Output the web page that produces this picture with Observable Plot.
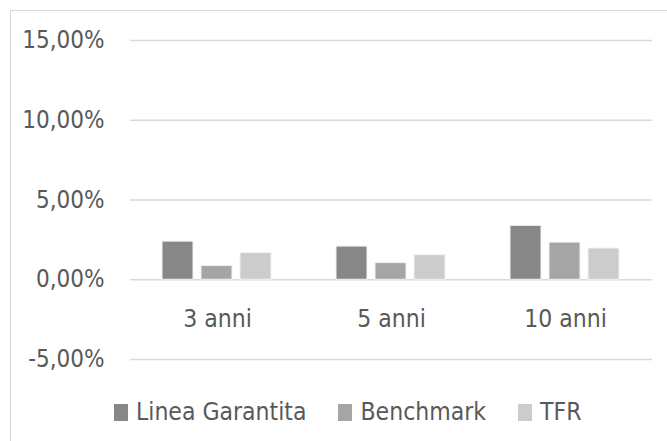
<!DOCTYPE html>
<html><head><meta charset="utf-8">
<script src="https://cdn.jsdelivr.net/npm/d3@7"></script>
<script src="https://cdn.jsdelivr.net/npm/@observablehq/plot@0.6"></script>
<style>
body{margin:0;background:#fff;width:667px;height:441px;overflow:hidden;position:relative;font-family:"DejaVu Sans Condensed",sans-serif;color:#595959}
#frame{position:absolute;left:10px;top:10px;width:800px;height:600px;border:1px solid #d9d9d9;pointer-events:none}
#chart{position:absolute;left:0;top:0}
#legend{position:absolute;left:114px;top:398px;display:flex;align-items:center;font-size:24.5px;height:28px;line-height:28px}
.item{display:flex;align-items:center;margin-right:32px}
.sw{width:14px;height:17px;margin-right:8px}
</style></head><body>
<div id="frame"></div><div id="chart"></div><div id="legend"></div>
<script>
const categories = ["3 anni", "5 anni", "10 anni"];
const series = ["Linea Garantita", "Benchmark", "TFR"];
const lineaGarantita = [2.39, 2.08, 3.38];
const benchmark = [0.86, 1.04, 2.33];
const tfr = [1.67, 1.54, 1.96];
const yTicks = [-5, 0, 5, 10, 15];

const seriesValues = [lineaGarantita, benchmark, tfr];
const colors = ["#878787", "#a5a5a5", "#cccccc"];
const rows = categories.flatMap((c, i) => series.map((s, j) => ({category: c, series: s, value: seriesValues[j][i]})));
const fmt = d => d.toFixed(2).replace(".", ",") + "%";
const font = '"DejaVu Sans Condensed",sans-serif';

const plot = Plot.plot({
  width: 667, height: 385,
  marginLeft: 130, marginRight: 15, marginTop: 40, marginBottom: 26,
  style: {fontFamily: font, fontSize: "24px", color: "#595959", background: "transparent"},
  fx: {domain: categories, axis: null, paddingInner: 0, paddingOuter: 0},
  x: {domain: series, axis: null, paddingInner: 0.2, paddingOuter: 0.83},
  y: {domain: [-5, 15], ticks: yTicks, tickSize: 0, tickPadding: 26, tickFormat: fmt, label: null},
  color: {domain: series, range: colors},
  marks: [
    Plot.ruleY(yTicks, {stroke: "#d9d9d9", strokeWidth: 1.3}),
    Plot.barY(rows, {fx: "category", x: "series", y: "value", fill: "series", stroke: "#f2f2f2", strokeWidth: 1}),
    Plot.text(categories, {fx: d => d, y: 0, dy: 39, text: d => d, fontSize: 24.5, fill: "#595959"})
  ]
});
document.getElementById("chart").appendChild(plot);

const legend = document.getElementById("legend");
series.forEach((s, i) => {
  const item = document.createElement("div");
  item.className = "item";
  const sw = document.createElement("div");
  sw.className = "sw";
  sw.style.background = colors[i];
  const t = document.createElement("span");
  t.textContent = s;
  item.appendChild(sw); item.appendChild(t);
  legend.appendChild(item);
});
</script>
</body></html>
